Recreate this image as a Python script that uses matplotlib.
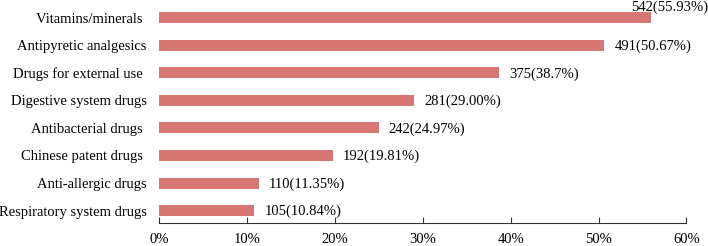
import matplotlib
matplotlib.use('Agg')
import matplotlib.pyplot as plt

plt.rcParams['font.family'] = ['Liberation Serif', 'DejaVu Serif']

categories = ['Vitamins/minerals ', 'Antipyretic analgesics', 'Drugs for external use ',
              'Digestive system drugs', 'Antibacterial drugs ', 'Chinese patent drugs ',
              'Anti-allergic drugs', 'Respiratory system drugs']
counts = [542, 491, 375, 281, 242, 192, 110, 105]
percents = [55.93, 50.67, 38.7, 29.00, 24.97, 19.81, 11.35, 10.84]
pct_text = ['55.93', '50.67', '38.7', '29.00', '24.97', '19.81', '11.35', '10.84']
xticks = [0, 10, 20, 30, 40, 50, 60]

fig = plt.figure(figsize=(7.08, 2.46), dpi=100)
ax = fig.add_axes([0.2246, 0.0935, 0.7450, 0.885])

ypos = list(range(len(categories)))
ax.barh(ypos, percents, height=0.4, color='#D87673')

for i in ypos:
    lab = '%d(%s%%)' % (counts[i], pct_text[i])
    if i == 0:
        # top label sits above the bar end
        ax.annotate(lab, (percents[i], i), xytext=(-20, 10), textcoords='offset pixels',
                    ha='left', va='center', fontsize=10.5)
    else:
        ax.annotate(lab, (percents[i], i), xytext=(10, -1), textcoords='offset pixels',
                    ha='left', va='center', fontsize=10.5)

ax.set_ylim(7.45, -0.45)
ax.set_xlim(0, 60)
ax.set_yticks(ypos)
ax.set_yticklabels(categories, fontsize=10.5)
ax.set_xticks(xticks)
ax.set_xticklabels(['%d%%' % t for t in xticks], fontsize=10.5)

for s in ['top', 'right', 'left']:
    ax.spines[s].set_visible(False)
ax.spines['bottom'].set_color('#333333')
ax.tick_params(axis='y', length=0, pad=9)
ax.tick_params(axis='x', direction='in', length=4, color='#333333', pad=7)

fig.savefig('out.png', dpi=100)
